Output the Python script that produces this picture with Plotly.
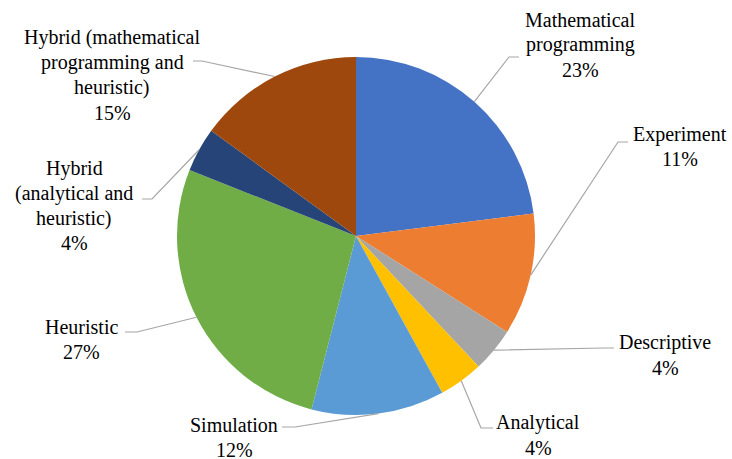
import math
import plotly.graph_objects as go

# Share of papers by solution approach (clockwise from 12 o'clock)
labels = [
    "Mathematical programming",
    "Experiment",
    "Descriptive",
    "Analytical",
    "Simulation",
    "Heuristic",
    "Hybrid (analytical and heuristic)",
    "Hybrid (mathematical programming and heuristic)",
]
label_lines = [
    ["Mathematical", "programming"],
    ["Experiment"],
    ["Descriptive"],
    ["Analytical"],
    ["Simulation"],
    ["Heuristic"],
    ["Hybrid", "(analytical and", "heuristic)"],
    ["Hybrid (mathematical", "programming and", "heuristic)"],
]
values = [23, 11, 4, 4, 12, 27, 4, 15]

colors = ["#4472C4", "#ED7D31", "#A5A5A5", "#FFC000",
          "#5B9BD5", "#70AD47", "#264478", "#9E480E"]

W, H = 732, 459
CX, CY, R = 356, 236, 179  # pie centre and radius in pixels
LINE_GAP = 25              # label line spacing in pixels

# Label block centres and leader-line elbows / ends (pixels)
label_pos = [(580, 45), (680, 147), (665, 355), (538, 435),
             (234, 437), (81, 339), (74, 206), (112, 75)]
elbows = [(509, 57), (618, 142), (604, 348), (481, 428),
          (295, 427), (137, 332), (152, 199), (202, 61)]
ends = [(519, 57), (628, 142), (614, 348), (493, 428),
        (282, 427), (125, 332), (142, 199), (193, 61)]

SERIF = "Liberation Serif"


def px(x):
    return x / W


def py(y):
    return 1 - y / H


fig = go.Figure()
# empty cartesian layer underneath, axes hidden
fig.add_trace(go.Scatter(x=[], y=[], showlegend=False, hoverinfo="skip"))
fig.add_trace(go.Pie(
    labels=labels,
    values=values,
    sort=False,
    direction="clockwise",
    rotation=0,
    marker=dict(colors=colors, line=dict(width=0)),
    textinfo="none",
    hoverinfo="label+percent",
    domain=dict(x=[px(CX - R), px(CX + R)], y=[py(CY + R), py(CY - R)]),
))

total = sum(values)
cum = 0.0
shapes = []
for i, v in enumerate(values):
    mid = (cum + v / 2) / total * 2 * math.pi
    cum += v
    sx = CX + R * math.sin(mid)
    sy = CY - R * math.cos(mid)
    ex, ey = elbows[i]
    tx, ty = ends[i]
    path = f"M {px(sx)} {py(sy)} L {px(ex)} {py(ey)} L {px(tx)} {py(ty)}"
    shapes.append(dict(type="path", path=path, xref="paper", yref="paper",
                       line=dict(color="#A6A6A6", width=1.2)))
    pct = round(v / total * 100)
    lines = label_lines[i] + [f"{pct}%"]
    lx, ly = label_pos[i]
    n = len(lines)
    for j, line in enumerate(lines):
        yy = ly + (j - (n - 1) / 2) * LINE_GAP
        fig.add_annotation(
            text=line,
            x=px(lx), y=py(yy), xref="paper", yref="paper",
            xanchor="center", yanchor="middle", align="center",
            showarrow=False,
            font=dict(family=SERIF, size=20, color="black"),
        )

fig.update_layout(
    width=W, height=H,
    margin=dict(l=0, r=0, t=0, b=0),
    paper_bgcolor="white",
    plot_bgcolor="white",
    showlegend=False,
    font=dict(family=SERIF),
    xaxis=dict(visible=False),
    yaxis=dict(visible=False),
    shapes=shapes,
)

fig.write_html("out.html")
